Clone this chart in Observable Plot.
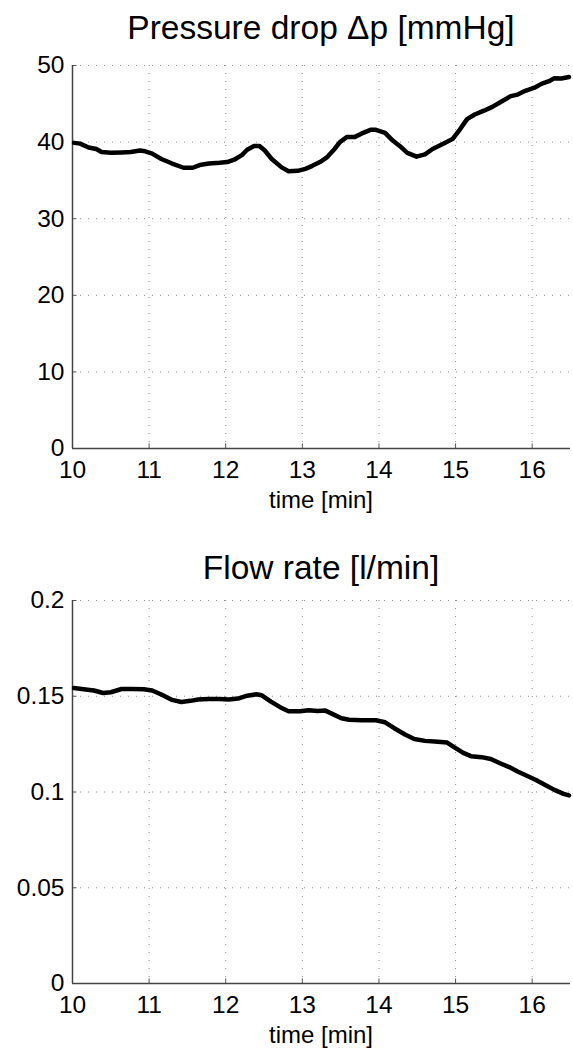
<!DOCTYPE html>
<html>
<head>
<meta charset="utf-8">
<script src="https://cdn.jsdelivr.net/npm/d3@7"></script>
<script src="https://cdn.jsdelivr.net/npm/@observablehq/plot@0.6"></script>
<style>
  html, body { margin: 0; padding: 0; background: white; }
  #root { position: relative; width: 573px; height: 1048px; overflow: hidden; font-family: "Liberation Sans", Arial, Helvetica, sans-serif; color: black; }
  .title { position: absolute; left: 72px; width: 498px; text-align: center; font-size: 33.5px; line-height: 40px; white-space: nowrap; }
  .xlabel { position: absolute; left: 72px; width: 498px; text-align: center; font-size: 24px; line-height: 28px; white-space: nowrap; }
  .panel { position: absolute; left: 0; }
</style>
</head>
<body>
<div id="root"></div>
<script>
// ---- data ----
const xTicks = [10, 11, 12, 13, 14, 15, 16];
const xDomain = [10, 16.5];

const pTitle = "Pressure drop Δp [mmHg]";
const pTicks = [0, 10, 20, 30, 40, 50];
const pTime = [10.02, 10.1, 10.21, 10.31, 10.38, 10.5, 10.64, 10.76, 10.88, 10.95, 11.04, 11.16, 11.3, 11.45, 11.57, 11.66, 11.78, 11.92, 12.02, 12.11, 12.21, 12.28, 12.37, 12.44, 12.51, 12.6, 12.73, 12.82, 12.94, 13.04, 13.13, 13.23, 13.32, 13.42, 13.49, 13.58, 13.68, 13.77, 13.89, 13.96, 14.08, 14.18, 14.27, 14.37, 14.49, 14.6, 14.7, 14.82, 14.96, 15.06, 15.15, 15.25, 15.37, 15.48, 15.6, 15.72, 15.81, 15.91, 16.03, 16.12, 16.22, 16.29, 16.38, 16.48];
const pValue = [39.9, 39.8, 39.3, 39.1, 38.7, 38.6, 38.65, 38.7, 38.9, 38.8, 38.5, 37.8, 37.2, 36.65, 36.65, 37.0, 37.2, 37.3, 37.4, 37.7, 38.3, 39.0, 39.5, 39.5, 38.9, 37.8, 36.7, 36.2, 36.25, 36.5, 36.9, 37.4, 38.0, 39.1, 40.0, 40.65, 40.65, 41.1, 41.6, 41.6, 41.2, 40.2, 39.5, 38.6, 38.1, 38.4, 39.1, 39.7, 40.4, 41.7, 43.0, 43.6, 44.1, 44.6, 45.3, 46.0, 46.2, 46.7, 47.1, 47.6, 47.95, 48.35, 48.3, 48.5];

const qTitle = "Flow rate [l/min]";
const qTicks = [0, 0.05, 0.1, 0.15, 0.2];
const qTime = [10.02, 10.17, 10.28, 10.4, 10.5, 10.64, 10.78, 10.93, 11.04, 11.16, 11.3, 11.42, 11.54, 11.64, 11.78, 11.92, 12.04, 12.16, 12.28, 12.4, 12.47, 12.59, 12.71, 12.82, 12.97, 13.08, 13.2, 13.3, 13.39, 13.51, 13.61, 13.77, 13.96, 14.08, 14.2, 14.34, 14.46, 14.6, 14.77, 14.89, 14.98, 15.1, 15.2, 15.34, 15.46, 15.58, 15.7, 15.81, 15.93, 16.05, 16.17, 16.29, 16.41, 16.48];
const qValue = [0.1543, 0.1535, 0.153, 0.1517, 0.1521, 0.1538, 0.1538, 0.1537, 0.153, 0.1509, 0.1481, 0.147, 0.1476, 0.1483, 0.1486, 0.1486, 0.1483, 0.1488, 0.1503, 0.151, 0.1505, 0.1472, 0.1443, 0.1422, 0.1422, 0.1427, 0.1423, 0.1425, 0.1408, 0.1385, 0.1377, 0.1375, 0.1375, 0.1364, 0.1333, 0.13, 0.1277, 0.1267, 0.1262, 0.1258, 0.1234, 0.1204, 0.1187, 0.1182, 0.1172, 0.115, 0.113, 0.1107, 0.1085, 0.1063, 0.1037, 0.1011, 0.099, 0.0982];

const xLabel = "time [min]";

// ---- drawing ----
const root = document.getElementById("root");
const FONT = "'Liberation Sans', Arial, Helvetica, sans-serif";

function addDiv(cls, text, top) {
  const d = document.createElement("div");
  d.className = cls;
  d.textContent = text;
  d.style.top = top + "px";
  root.appendChild(d);
}

function panel(times, values, yTicks, top) {
  const yMax = yTicks[yTicks.length - 1];
  const data = times.map((t, i) => ({t, v: values[i]}));
  const tickLenY = yMax * 0.012;
  const tickLenX = (xDomain[1] - xDomain[0]) * 0.009;
  const chart = Plot.plot({
    width: 573,
    height: 432,
    marginTop: 9,
    marginLeft: 72,
    marginRight: 3,
    marginBottom: 40,
    style: {fontFamily: FONT, fontSize: "24.5px", color: "black", background: "white", overflow: "visible"},
    x: {domain: xDomain, ticks: xTicks},
    y: {domain: [0, yMax], ticks: yTicks},
    marks: [
      Plot.gridX(xTicks, {stroke: "#8a8a8a", strokeOpacity: 1, strokeWidth: 1, strokeDasharray: "1,7"}),
      Plot.gridY(yTicks, {stroke: "#8a8a8a", strokeOpacity: 1, strokeWidth: 1, strokeDasharray: "1,7"}),
      Plot.ruleX(xTicks, {x: d => d, y1: 0, y2: tickLenY, stroke: "#555"}),
      Plot.ruleY(yTicks, {y: d => d, x1: xDomain[0], x2: xDomain[0] + tickLenX, stroke: "#555"}),
      Plot.axisX(xTicks, {tickSize: 0, tickPadding: 12, tickFormat: d => String(d), fontSize: 24.5, label: null}),
      Plot.axisY(yTicks, {tickSize: 0, tickPadding: 8, tickFormat: d => String(d), fontSize: 24.5, label: null}),
      Plot.ruleY([0], {stroke: "#444", strokeWidth: 1.5}),
      Plot.ruleX([xDomain[0]], {stroke: "#444", strokeWidth: 1.5}),
      Plot.line(data, {x: "t", y: "v", stroke: "black", strokeWidth: 4.5, strokeLinejoin: "round", strokeLinecap: "round"})
    ]
  });
  const wrap = document.createElement("div");
  wrap.className = "panel";
  wrap.style.top = top + "px";
  wrap.appendChild(chart);
  root.appendChild(wrap);
}

addDiv("title", pTitle, 8);
panel(pTime, pValue, pTicks, 56);
addDiv("xlabel", xLabel, 486);

addDiv("title", qTitle, 548);
panel(qTime, qValue, qTicks, 591);
addDiv("xlabel", xLabel, 1021);
</script>
</body>
</html>
